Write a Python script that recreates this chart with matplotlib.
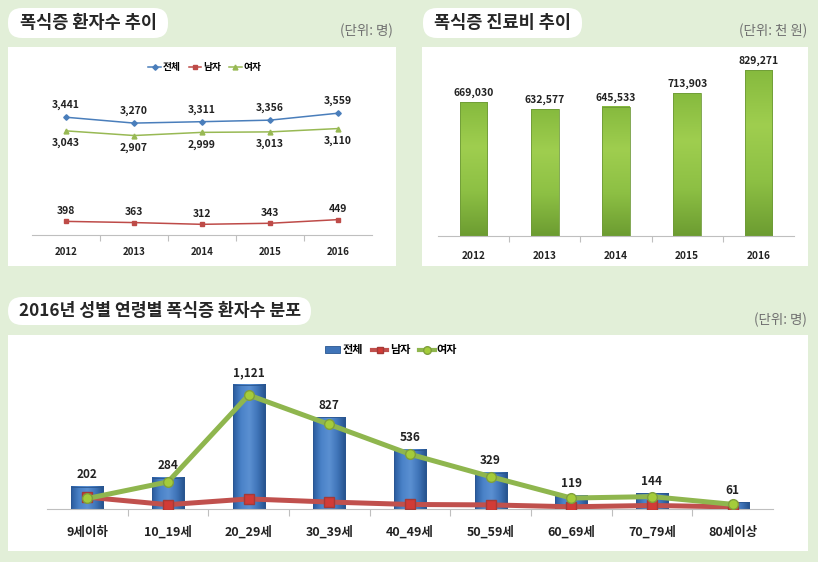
import numpy as np
import matplotlib
matplotlib.use("Agg")
import matplotlib.pyplot as plt
from matplotlib.patches import Rectangle, FancyBboxPatch, Patch
from matplotlib.lines import Line2D
from matplotlib.colors import LinearSegmentedColormap

plt.rcParams['font.family'] = ['Noto Sans CJK KR', 'DejaVu Sans']

# ---- data ----
years = ['2012', '2013', '2014', '2015', '2016']
total = [3441, 3270, 3311, 3356, 3559]
male = [398, 363, 312, 343, 449]
female = [3043, 2907, 2999, 3013, 3110]

cost = [669030, 632577, 645533, 713903, 829271]

ages = ['9세이하', '10_19세', '20_29세', '30_39세', '40_49세',
        '50_59세', '60_69세', '70_79세', '80세이상']
age_total = [202, 284, 1121, 827, 536, 329, 119, 144, 61]
age_male = [107, 39, 91, 63, 41, 37, 20, 32, 19]
age_female = [95, 245, 1030, 764, 495, 292, 99, 112, 42]

W, H = 818, 562
BG = '#e2efd8'
AXC = '#bfbfbf'

fig = plt.figure(figsize=(W / 100, H / 100), dpi=100)
fig.patch.set_facecolor(BG)

# background layer in pixel coordinates
bg = fig.add_axes([0, 0, 1, 1])
bg.set_xlim(0, W)
bg.set_ylim(H, 0)
bg.axis('off')

for (x0, y0, x1, y1) in [(8, 47, 396, 266), (422, 47, 808, 266), (8, 335, 808, 551)]:
    bg.add_patch(Rectangle((x0, y0), x1 - x0, y1 - y0, facecolor='white', edgecolor='none'))

for (x0, y0, x1, y1) in [(8, 8, 168, 38), (423, 8, 582, 38), (8, 297, 311, 325)]:
    bg.add_patch(FancyBboxPatch((x0, y0), x1 - x0, y1 - y0,
                                boxstyle='round,pad=0,rounding_size=14',
                                facecolor='white', edgecolor='none'))

title_kw = dict(fontweight='bold', va='center', ha='left', color='#262626')
bg.text(20, 23, '폭식증 환자수 추이', fontsize=12.6, **title_kw)
bg.text(434, 23, '폭식증 진료비 추이', fontsize=12.6, **title_kw)
bg.text(19, 311, '2016년 성별 연령별 폭식증 환자수 분포', fontsize=12.4, **title_kw)
bg.text(393, 31, '(단위: 명)', fontsize=9.7, va='center', ha='right', color='#707070')
bg.text(807, 31, '(단위: 천 원)', fontsize=9.7, va='center', ha='right', color='#707070')
bg.text(807, 320, '(단위: 명)', fontsize=9.7, va='center', ha='right', color='#707070')


def px_axes(x0, y0, x1, y1):
    ax = fig.add_axes([x0 / W, 1 - y1 / H, (x1 - x0) / W, (y1 - y0) / H])
    ax.patch.set_alpha(0)
    for s in ['top', 'left', 'right']:
        ax.spines[s].set_visible(False)
    ax.spines['bottom'].set_color(AXC)
    ax.spines['bottom'].set_linewidth(0.8)
    ax.set_yticks([])
    return ax


def cat_ticks(ax, labels, size, pad):
    n = len(labels)
    ax.set_xticks(range(n))
    ax.set_xticklabels(labels, fontsize=size, fontweight='bold', color='#222222')
    ax.tick_params(axis='x', which='major', length=0, pad=pad)
    ax.set_xticks(np.arange(0.5, n - 1, 1), minor=True)
    ax.tick_params(axis='x', which='minor', length=4, color=AXC, width=0.8)
    ax.set_xlim(-0.5, n - 0.5)


# ---- chart 1: patient trend ----
ax1 = px_axes(32, 81, 372, 235)
x = np.arange(len(years))
c_tot, c_m, c_f = '#4a7ebb', '#be4b48', '#98b954'
ax1.plot(x, total, color=c_tot, lw=1.1, marker='D', ms=2.8, label='전체')
ax1.plot(x, male, color=c_m, lw=1.1, marker='s', ms=3.5, label='남자')
ax1.plot(x, female, color=c_f, lw=1.1, marker='^', ms=3.5, label='여자')
for i in range(len(years)):
    ax1.annotate(f'{total[i]:,}', (x[i], total[i]), xytext=(0, 5), textcoords='offset points',
                 ha='center', va='bottom', fontsize=7.5, fontweight='bold', color='#222222')
    ax1.annotate(f'{female[i]:,}', (x[i], female[i]), xytext=(0, -5), textcoords='offset points',
                 ha='center', va='top', fontsize=7.5, fontweight='bold', color='#222222')
    ax1.annotate(f'{male[i]:,}', (x[i], male[i]), xytext=(0, 4), textcoords='offset points',
                 ha='center', va='bottom', fontsize=7.5, fontweight='bold', color='#222222')
ax1.set_ylim(0, 4500)
cat_ticks(ax1, years, 7, 9)
ax1.legend(loc='center', bbox_to_anchor=(205 / W, 1 - 67 / H), bbox_transform=fig.transFigure,
           ncol=3, frameon=False, handlelength=1.3, handletextpad=0.2,
           columnspacing=0.8, prop={'weight': 'bold', 'size': 7})

# ---- chart 2: cost bars ----
ax2 = px_axes(438, 56, 794, 236)
green_cmap = LinearSegmentedColormap.from_list('g', ['#86ba3e', '#9fce4f', '#8dc044', '#6c9c31'])
bw = 0.39
bars = ax2.bar(x, cost, width=bw, fill=False, edgecolor='#6e9a38', lw=0.6, zorder=3)
for b in bars:
    ax2.imshow(np.linspace(0, 1, 256).reshape(-1, 1), cmap=green_cmap, aspect='auto',
               extent=(b.get_x(), b.get_x() + b.get_width(), 0, b.get_height()),
               origin='upper', zorder=2, interpolation='bicubic')
    ax2.annotate(f'{int(b.get_height()):,}', (b.get_x() + b.get_width() / 2, b.get_height()),
                 xytext=(0, 3), textcoords='offset points', ha='center', va='bottom',
                 fontsize=7.5, fontweight='bold', color='#222222')
ax2.set_ylim(0, 900000)
cat_ticks(ax2, years, 7.3, 11)

# ---- chart 3: age distribution ----
ax3 = px_axes(47, 343, 773, 509)
xa = np.arange(len(ages))
blue_cmap = LinearSegmentedColormap.from_list('b', ['#285a9c', '#4a82c8', '#5b90d2', '#3f74b8', '#24508a'])
bw3 = 0.4
bars3 = ax3.bar(xa, age_total, width=bw3, fill=False, edgecolor='#2a5690', lw=0.6, zorder=3)
for b in bars3:
    ax3.imshow(np.linspace(0, 1, 256).reshape(1, -1), cmap=blue_cmap, aspect='auto',
               extent=(b.get_x(), b.get_x() + b.get_width(), 0, b.get_height()),
               origin='upper', zorder=2, interpolation='bicubic')
    ax3.annotate(f'{int(b.get_height()):,}', (b.get_x() + b.get_width() / 2, b.get_height()),
                 xytext=(0, 4), textcoords='offset points', ha='center', va='bottom',
                 fontsize=8.5, fontweight='bold', color='#222222')
ax3.plot(xa, age_male, color='#c0504d', lw=3.6, marker='s', ms=6.5,
         mfc='#d23b36', mec='#a33a37', zorder=4)
ax3.plot(xa, age_female, color='#8fb64e', lw=3.6, marker='o', ms=7,
         mfc='#a4cc3a', mec='#7f9f3d', zorder=5)
ax3.set_ylim(0, 1500)
cat_ticks(ax3, ages, 9, 12)
ax3.tick_params(axis='x', which='minor', length=5)

handles = [Patch(facecolor='#3f74b8', edgecolor='#2a5690', lw=0.6),
           Line2D([], [], color='#c0504d', lw=3, marker='s', ms=5, mfc='#d23b36', mec='#a33a37'),
           Line2D([], [], color='#8fb64e', lw=3, marker='o', ms=5.5, mfc='#a4cc3a', mec='#7f9f3d')]
ax3.legend(handles, ['전체', '남자', '여자'], loc='center',
           bbox_to_anchor=(391 / W, 1 - 350 / H), bbox_transform=fig.transFigure,
           ncol=3, frameon=False, handlelength=1.4, handleheight=0.6, handletextpad=0.2,
           columnspacing=0.8, prop={'weight': 'bold', 'size': 8})

fig.savefig('out.png', dpi=100, facecolor=BG)
